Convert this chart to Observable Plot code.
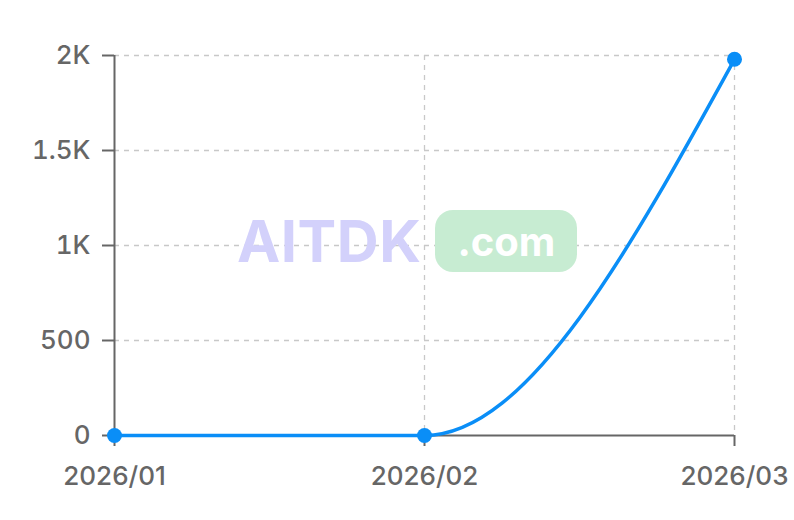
<!DOCTYPE html>
<html>
<head>
<meta charset="utf-8">
<script src="https://cdn.jsdelivr.net/npm/d3@7"></script>
<script src="https://cdn.jsdelivr.net/npm/@observablehq/plot@0.6"></script>
<style>
  html, body { margin: 0; padding: 0; background: #fff; }
  #wrap { position: relative; width: 794px; height: 520px; }
  #wm { position: absolute; left: 237px; top: 210px; height: 62px; display: flex; align-items: center; pointer-events: none; font-family: Inter, "Liberation Sans", Arial, sans-serif; font-weight: bold; }
  #wm .a { color: #d3d1fb; font-size: 58px; letter-spacing: 0.5px; }
  #wm .b { margin-left: 14px; background: #c7ecd2; color: #fff; font-size: 40px; border-radius: 18px; width: 142px; height: 62px; display: flex; align-items: center; justify-content: center; }
</style>
</head>
<body>
<div id="wrap"></div>
<script>
const months = ["2026/01", "2026/02", "2026/03"];
const values = [0, 0, 1980];
const yTicks = [0, 500, 1000, 1500, 2000];

const data = months.map((m, i) => ({month: m, value: values[i]}));
const fmt = d => d >= 1000 ? (d / 1000) + "K" : String(d);
const blue = "#0a8ef7";
const axisColor = "#666";

const chart = Plot.plot({
  width: 794,
  height: 520,
  marginLeft: 114,
  marginRight: 60,
  marginTop: 55,
  marginBottom: 85,
  style: {fontFamily: "Inter, 'Liberation Sans', Arial, sans-serif", fontSize: "26px", fontWeight: 500, color: axisColor, background: "#fff"},
  x: {type: "point", domain: months, padding: 0, label: null},
  y: {domain: [0, 2000], label: null},
  marks: [
    Plot.ruleY(yTicks.filter(d => d > 0), {stroke: "#c8c8c8", strokeWidth: 1.3, strokeDasharray: "5,5"}),
    Plot.ruleX(months.slice(1), {stroke: "#c8c8c8", strokeWidth: 1.3, strokeDasharray: "5,5"}),
    Plot.axisY({ticks: yTicks, tickFormat: fmt, tickSize: 12, tickPadding: 12, stroke: axisColor, strokeWidth: 2, fill: axisColor, label: null}),
    Plot.axisX({ticks: months, tickSize: 11, tickPadding: 20, stroke: axisColor, strokeWidth: 2, fill: axisColor, label: null}),
    Plot.ruleX([months[0]], {stroke: axisColor, strokeWidth: 2, y1: 0, y2: 2000}),
    Plot.ruleY([0], {stroke: axisColor, strokeWidth: 2}),
    Plot.line(data, {x: "month", y: "value", stroke: blue, strokeWidth: 3.5, curve: "monotone-x"}),
    Plot.dot(data, {x: "month", y: "value", r: 7.5, fill: blue, stroke: "none"})
  ]
});
const wrap = document.getElementById("wrap");
wrap.appendChild(chart);
const wm = document.createElement("div");
wm.id = "wm";
wm.innerHTML = '<span class="a">AITDK</span><span class="b">.com</span>';
wrap.appendChild(wm);
</script>
</body>
</html>
